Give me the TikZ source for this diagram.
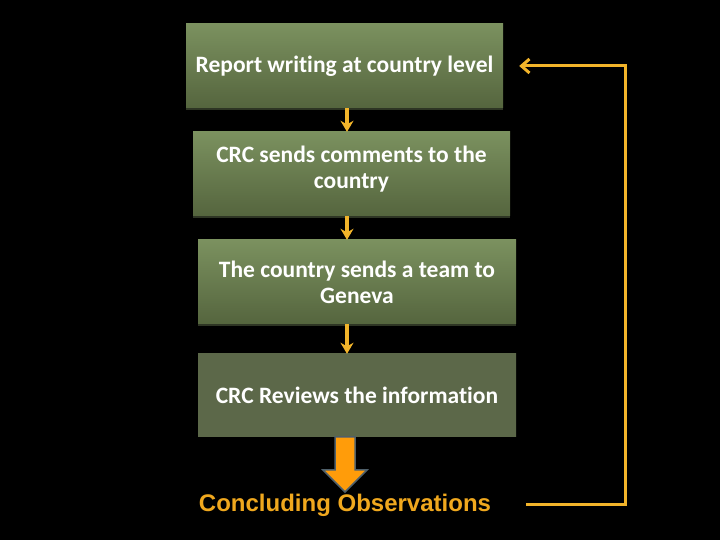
\documentclass[tikz,border=0pt]{standalone}
\usepackage{fontspec}
\setmainfont{Carlito}[Ligatures=NoCommon]
\newfontfamily\arialfont{Liberation Sans}
\usetikzlibrary{arrows.meta,calc}
\definecolor{gtop}{HTML}{7B915F}
\definecolor{gbot}{HTML}{55653E}
\definecolor{gsolid}{HTML}{5C6849}
\definecolor{shadowc}{HTML}{2E3524}
\definecolor{arrowy}{HTML}{F2B42A}
\definecolor{bigor}{HTML}{FF9C0A}
\definecolor{bigedge}{HTML}{4E5F6A}
\definecolor{conclc}{HTML}{F0A81E}
\tikzset{
  boxtext/.style={inner sep=0pt, align=center, text=white, font=\bfseries\fontsize{23.5bp}{26bp}\selectfont},
  box/.style={boxtext, minimum width=317bp, minimum height=84bp, top color=gtop, bottom color=gbot},
  flatbox/.style={box, top color=gsolid, bottom color=gsolid, fill=gsolid},
  stepline/.style={draw=arrowy, line width=3.2bp, -{Stealth[length=11bp,width=13bp,inset=3.5bp]}},
  feedline/.style={draw=arrowy, line width=3bp, -{Straight Barb[length=8bp,width=14bp,line width=3bp]}},
}
\begin{document}
\begin{tikzpicture}[x=1bp,y=1bp]
\fill[black] (0,0) rectangle (720,540);
\useasboundingbox (0,0) rectangle (720,540);
% shadows
\fill[shadowc] (186,430) rectangle (503,434);
\fill[shadowc] (193,322) rectangle (510,326);
\fill[shadowc] (198,214) rectangle (516,218);
\node[box] (b1) at (344.5,474) {Report writing at country level};
\node[box] (b2) at (351.5,366) {};
\node[boxtext] (b2t) at ([yshift=5bp]b2.center) {CRC sends comments to the\\country};
\node[box, minimum width=318bp] (b3) at (357,258) {The country sends a team to\\Geneva};
\node[flatbox, minimum width=318bp, minimum height=83bp] (b4) at (357,144.5) {CRC Reviews the information};
\coordinate (col) at (347,0);
\draw[stepline] (b1.south -| col) -- (b2.north -| col);
\draw[stepline] (b2.south -| col) -- (b3.north -| col);
\draw[stepline] (b3.south -| col) -- (b4.north -| col);
\node[inner sep=0pt, text=conclc, font=\arialfont\bfseries\fontsize{24bp}{28bp}\selectfont] (concl) at (345,35) {Concluding Observations};
\draw[fill=bigor, draw=bigedge, line width=1.5bp]
  (335,103) -- (335,70) -- (323,70) -- (345,48) -- (367,70) -- (355,70) -- (355,103) -- cycle;
\coordinate (rt) at (625,0);
\draw[feedline] ([xshift=35bp]concl.east) -- (concl.east -| rt) |- ([xshift=16bp]b1.east);
\end{tikzpicture}
\end{document}
